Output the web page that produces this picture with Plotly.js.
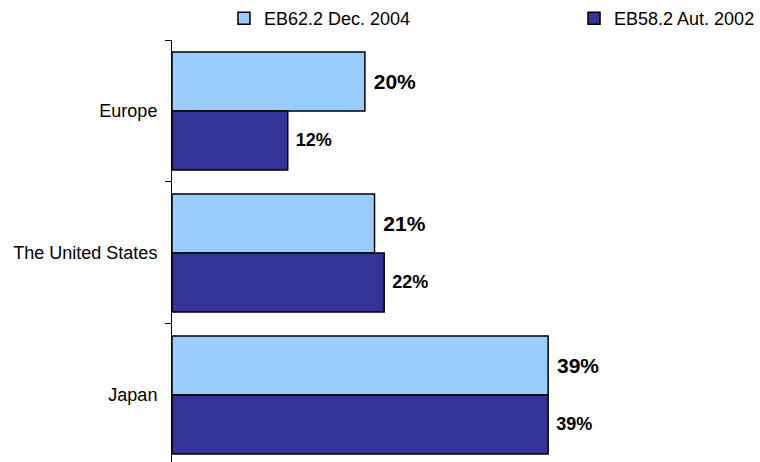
<!DOCTYPE html>
<html>
<head>
<meta charset="utf-8">
<script src="https://cdn.plot.ly/plotly-3.0.1.min.js"></script>
<style>html,body{margin:0;padding:0;background:#fff;}#chart{width:760px;height:462px;}</style>
</head>
<body>
<div id="chart"></div>
<script>
const categories = ["Europe", "The United States", "Japan"];
const seriesNames = ["EB62.2 Dec. 2004", "EB58.2 Aut. 2002"];
const dec2004 = [20, 21, 39];
const aut2002 = [12, 22, 39];

const colors = ["#99CCFF", "#333399"];
const labelSizes = [21, 18];
const legendIds = ["legend", "legend2"];
const allValues = [dec2004, aut2002];

const traces = allValues.map((vals, i) => ({
  type: "bar",
  orientation: "h",
  name: seriesNames[i],
  legend: legendIds[i],
  y: categories,
  x: vals,
  text: vals.map(v => "\u00a0" + v + "%"),
  textposition: "outside",
  textfont: {family: "Liberation Sans, Arial, sans-serif", size: labelSizes[i], color: "#000", weight: "bold"},
  cliponaxis: false,
  marker: {color: colors[i], line: {color: "#000", width: 1.5}},
  hoverinfo: "skip"
}));

const legendBase = {
  orientation: "h",
  xref: "container", xanchor: "left",
  y: 1, yref: "container", yanchor: "top",
  font: {size: 18},
  bgcolor: "rgba(0,0,0,0)",
  borderwidth: 0
};

const layout = {
  width: 760,
  height: 462,
  margin: {l: 172, r: 154, t: 40, b: 0, pad: 0, autoexpand: false},
  paper_bgcolor: "#fff",
  plot_bgcolor: "#fff",
  font: {family: "Liberation Sans, Arial, sans-serif", size: 18, color: "#000"},
  barmode: "group",
  bargap: 0.17,
  bargroupgap: 0,
  showlegend: true,
  legend: Object.assign({}, legendBase, {x: 0.2947}),
  legend2: Object.assign({}, legendBase, {x: 0.7553}),
  xaxis: {
    range: [0, 45],
    showline: false, showgrid: false, zeroline: false,
    showticklabels: false, ticks: ""
  },
  yaxis: {
    type: "category",
    range: [2.472, -0.5],
    autorange: false,
    showline: true, linecolor: "#000", linewidth: 1,
    ticks: "outside", tickson: "boundaries", ticklen: 6, tickcolor: "#000", tickwidth: 1,
    ticklabelstandoff: 10,
    showgrid: false, zeroline: false,
    tickfont: {size: 18}
  }
};

Plotly.newPlot("chart", traces, layout, {displayModeBar: false, staticPlot: true});
</script>
</body>
</html>
